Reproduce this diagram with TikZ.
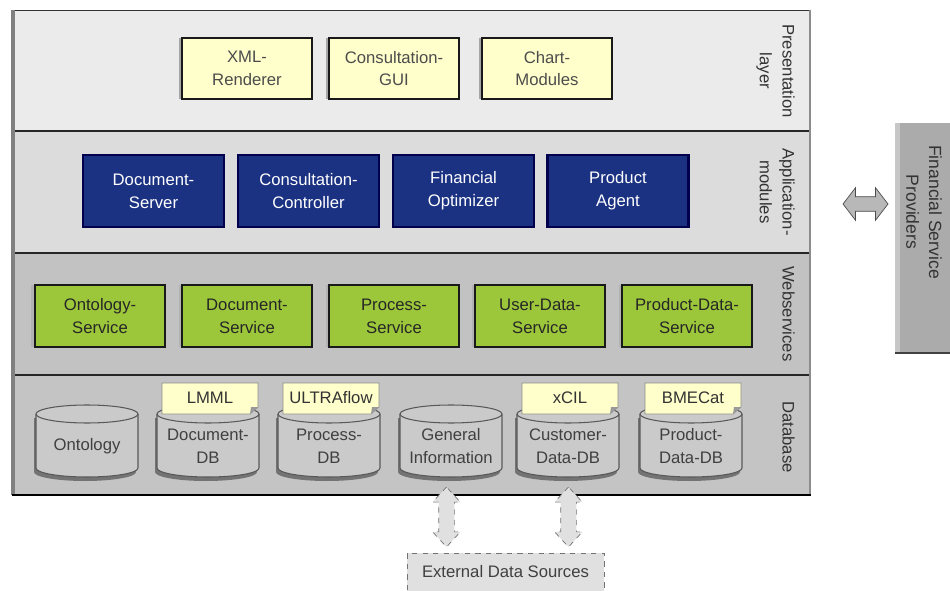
\documentclass[tikz,border=0pt]{standalone}
\usepackage{fontspec}
\setmainfont{Liberation Sans}
\usetikzlibrary{shapes.arrows,shadows}

\definecolor{presfill}{HTML}{EBEBEB}
\definecolor{appfill}{HTML}{DCDCDC}
\definecolor{wsfill}{HTML}{C2C2C2}
\definecolor{dbfill}{HTML}{C4C4C4}
\definecolor{guiyellow}{HTML}{FFFFCC}
\definecolor{modblue}{HTML}{1B3282}
\definecolor{servgreen}{HTML}{9DC73B}
\definecolor{cylfill}{HTML}{CACACA}

\tikzset{
  box/.style={draw=black!90, line width=1.2pt, align=center, inner sep=0pt,
    font=\fontsize{9.5}{13}\selectfont},
  guibox/.style={box, fill=guiyellow, text=black!70, minimum width=2.6cm, minimum height=1.22cm,
    general shadow={fill=black!35, shadow xshift=-2pt}},
  modbox/.style={box, draw=blue!30!black, fill=modblue, text=white, minimum width=2.82cm, minimum height=1.44cm},
  servbox/.style={box, fill=servgreen, text=black!85, minimum width=2.6cm, minimum height=1.24cm,
    general shadow={fill=black!30, shadow xshift=-2pt}},
  layerlabel/.style={rotate=-90, anchor=north, align=center, text=black!80,
    font=\fontsize{9.5}{13}\selectfont},
  dblabel/.style={align=center, text=black!75, font=\fontsize{9.5}{13}\selectfont},
  tagtext/.style={text=black!80, font=\fontsize{9.5}{11}\selectfont},
  cylline/.style={draw=black!65, line width=0.6pt},
  vdarrow/.style={double arrow, rotate=90, draw=black!55, dashed, fill=black!12,
    inner xsep=0pt, inner ysep=0.15cm, minimum height=1.2cm,
    double arrow head extend=0.12cm, double arrow tip angle=85},
}

\begin{document}
\begin{tikzpicture}[x=0.02cm, y=-0.02cm]
\useasboundingbox (0,0) rectangle (950,591);

% layer bands
\fill[presfill] (12,10) rectangle (810,131);
\fill[appfill] (12,131) rectangle (810,253);
\fill[wsfill] (12,253) rectangle (810,375);
\fill[dbfill] (12,375) rectangle (810,495);
\draw[black!80] (12,10) -- (810,10);
\foreach \y in {131,253,375} \draw[black!85, line width=0.8pt] (12,\y) -- (810,\y);
\draw[black!50, line width=2pt] (13,10) -- (13,495);
\draw[black!45, line width=1.5pt] (810,10) -- (810,495);
\draw[black, line width=1.6pt] (12,495) -- (811,495);

\node[layerlabel] (lpres) at (801,71) {Presentation\\layer};
\node[layerlabel] (lapp) at (801,192) {Application-\\modules};
\node[layerlabel] (lws) at (801,314) {Webservices};
\node[layerlabel] (ldb) at (801,437) {Database};

% presentation layer
\node[guibox] (xmlrend) at (247,68.5) {XML-\\Renderer};
\node[guibox] (consgui) at (394,68.5) {Consultation-\\GUI};
\node[guibox] (chartmod) at (547,68.5) {Chart-\\Modules};

% application modules
\node[modbox] (docserver) at (153.5,191) {Document-\\Server};
\node[modbox] (consctrl) at (308.5,191) {Consultation-\\Controller};
\node[modbox] (finopt) at (463.5,191) {Financial\\Optimizer};
\node[modbox] (prodagent) at (618,191) {Product\\Agent};

% webservices
\node[servbox] (ontoserv) at (100,316) {Ontology-\\Service};
\node[servbox] (docserv) at (247,316) {Document-\\Service};
\node[servbox] (procserv) at (394,316) {Process-\\Service};
\node[servbox] (userserv) at (540,316) {User-Data-\\Service};
\node[servbox] (prodserv) at (687,316) {Product-Data-\\Service};

% databases
\foreach \cx/\nm/\txt in {87/onto/Ontology, 208/docdb/{Document-\\DB}, 329/procdb/{Process-\\DB},
    451/geninfo/{General\\Information}, 568/custdb/{Customer-\\Data-DB}, 691/proddb/{Product-\\Data-DB}}{
  \fill[black!55] (\cx-53,418) -- (\cx-53,472) arc[start angle=180,end angle=0,x radius=51,y radius=9]
    -- (\cx+49,418) -- cycle;
  \draw[cylline, fill=cylfill] (\cx-51,414) -- (\cx-51,468) arc[start angle=180,end angle=0,x radius=51,y radius=9]
    -- (\cx+51,414) arc[start angle=0,end angle=-180,x radius=51,y radius=9] -- cycle;
  \draw[cylline] (\cx-51,414) arc[start angle=180,end angle=0,x radius=51,y radius=9];
  \node[dblabel] (\nm) at (\cx,446) {\txt};
}

% format tags on the databases
\foreach \cx/\nm/\tag in {208/lmml/LMML, 329/ultra/ULTRAflow, 568/xcil/xCIL, 691/bmecat/BMECat}{
  \draw[black!45, fill=guiyellow] (\cx-46,383) -- (\cx+50,383) -- (\cx+50,407) -- (\cx+42,414) -- (\cx-46,414) -- cycle;
  \fill[black!40] (\cx+50,407) -- (\cx+42,414) -- (\cx+43,407) -- cycle;
  \node[tagtext] (\nm) at (\cx+2,398) {\tag};
}

% external sources
\node[draw=black!55, dashed, fill=black!12, minimum width=3.94cm, minimum height=0.76cm,
  text=black!75, font=\fontsize{9.5}{11}\selectfont] (extsrc) at (505.5,572) {External Data Sources};
\node[vdarrow] (xarr1) at (446.5,517) {};
\node[vdarrow] (xarr2) at (568.5,517) {};

% financial service providers
\fill[black!33] (895,123) rectangle (955,353);
\fill[black!22] (895,123) rectangle (900,353);
\draw[black!75, line width=1pt] (895,353) -- (950,353);
\node[rotate=-90, align=center, text=black!80, font=\fontsize{10}{13}\selectfont] (fsp) at (924,212)
  {Financial Service\\Providers};
\node[double arrow, draw=black!70, fill=black!28, inner xsep=0pt, inner ysep=0.14cm,
  minimum height=0.9cm, double arrow head extend=0.18cm, double arrow tip angle=105] (fsparr) at (865.5,204) {};
\end{tikzpicture}
\end{document}
